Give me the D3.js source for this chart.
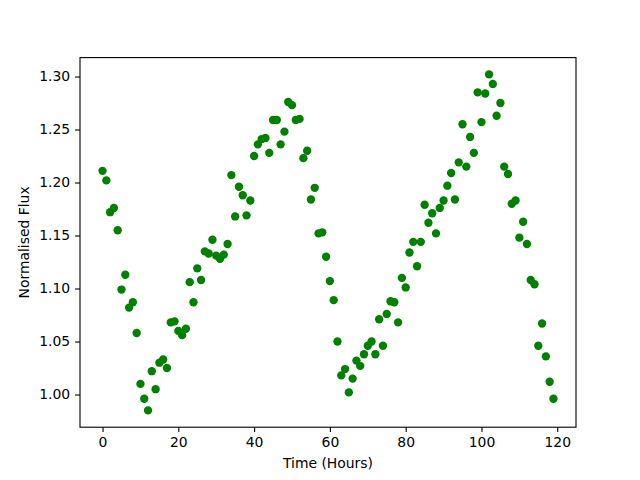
<!DOCTYPE html>
<html lang="en">
<head>
    <meta charset="UTF-8">
    <title>Normalised Flux vs Time</title>
    <script src="https://d3js.org/d3.v7.min.js"></script>
    <style>
        body { margin: 0; background: #fff; }
        .axis path,
        .axis line {
            fill: none;
            stroke: black;
            stroke-width: 1.1px;
        }
        .axis text {
            font-family: "DejaVu Sans", sans-serif;
            font-size: 13.9px;
            fill: black;
        }
        .label {
            font-family: "DejaVu Sans", sans-serif;
            font-size: 13.9px;
        }
    </style>
</head>
<body>
    <svg width="640" height="480"></svg>
    <script>
        // time in hours, one reading per hour
        const hours = d3.range(0, 120);
        const flux = [
            1.211, 1.202, 1.172, 1.176, 1.155, 1.099, 1.113, 1.082, 1.087, 1.058,
            1.010, 0.996, 0.985, 1.022, 1.005, 1.030, 1.033, 1.025, 1.068, 1.069,
            1.060, 1.056, 1.062, 1.106, 1.087, 1.119, 1.108, 1.135, 1.133, 1.146,
            1.131, 1.128, 1.132, 1.142, 1.207, 1.168, 1.196, 1.188, 1.169, 1.183,
            1.225, 1.236, 1.241, 1.242, 1.228, 1.259, 1.259, 1.236, 1.248, 1.276,
            1.273, 1.259, 1.260, 1.223, 1.230, 1.184, 1.195, 1.152, 1.153, 1.130,
            1.107, 1.089, 1.050, 1.018, 1.024, 1.002, 1.015, 1.032, 1.027, 1.038,
            1.046, 1.050, 1.038, 1.071, 1.046, 1.076, 1.088, 1.087, 1.068, 1.110,
            1.101, 1.134, 1.144, 1.121, 1.144, 1.179, 1.162, 1.171, 1.152, 1.176,
            1.183, 1.197, 1.209, 1.184, 1.219, 1.255, 1.215, 1.243, 1.228, 1.285,
            1.257, 1.284, 1.302, 1.293, 1.263, 1.275, 1.215, 1.208, 1.180, 1.183,
            1.148, 1.163, 1.142, 1.108, 1.104, 1.046, 1.067, 1.036, 1.012, 0.996
        ];
        const xTicks = [0, 20, 40, 60, 80, 100, 120];
        const yTicks = [1.00, 1.05, 1.10, 1.15, 1.20, 1.25, 1.30];

        const svg = d3.select("svg");
        const margin = {top: 57.6, right: 64, bottom: 52.8, left: 80};
        const width = +svg.attr("width") - margin.left - margin.right;
        const height = +svg.attr("height") - margin.top - margin.bottom;

        const g = svg.append("g").attr("transform", `translate(${margin.left},${margin.top})`);

        // matplotlib-style 5% padding around data
        const pad = ([a, b]) => [a - (b - a) * 0.05, b + (b - a) * 0.05];
        const xScale = d3.scaleLinear().domain(pad(d3.extent(hours))).range([0, width]);
        const yScale = d3.scaleLinear().domain(pad(d3.extent(flux))).range([height, 0]);

        const xAxis = d3.axisBottom(xScale).tickValues(xTicks).tickSize(4.9).tickPadding(4.9).tickFormat(d3.format("d"));
        const yAxis = d3.axisLeft(yScale).tickValues(yTicks).tickSize(4.9).tickPadding(4.9).tickFormat(d3.format(".2f"));

        g.append("g")
         .attr("class", "axis")
         .attr("transform", `translate(0,${height})`)
         .call(xAxis)
         .call(a => a.select(".domain").remove());

        g.append("g")
         .attr("class", "axis")
         .call(yAxis)
         .call(a => a.select(".domain").remove());

        g.selectAll("circle")
         .data(hours)
         .enter()
         .append("circle")
         .attr("cx", (d, i) => xScale(d))
         .attr("cy", (d, i) => yScale(flux[i]))
         .attr("r", 4.17)
         .attr("fill", "#008000");

        // frame
        g.append("rect")
         .attr("width", width)
         .attr("height", height)
         .attr("fill", "none")
         .attr("stroke", "black")
         .attr("stroke-width", 1.1);

        g.append("text")
         .attr("class", "label")
         .attr("x", width / 2)
         .attr("y", height + 41)
         .attr("text-anchor", "middle")
         .text("Time (Hours)");

        g.append("text")
         .attr("class", "label")
         .attr("transform", `translate(-51,${height / 2}) rotate(-90)`)
         .attr("text-anchor", "middle")
         .text("Normalised Flux");
    </script>
</body>
</html>
